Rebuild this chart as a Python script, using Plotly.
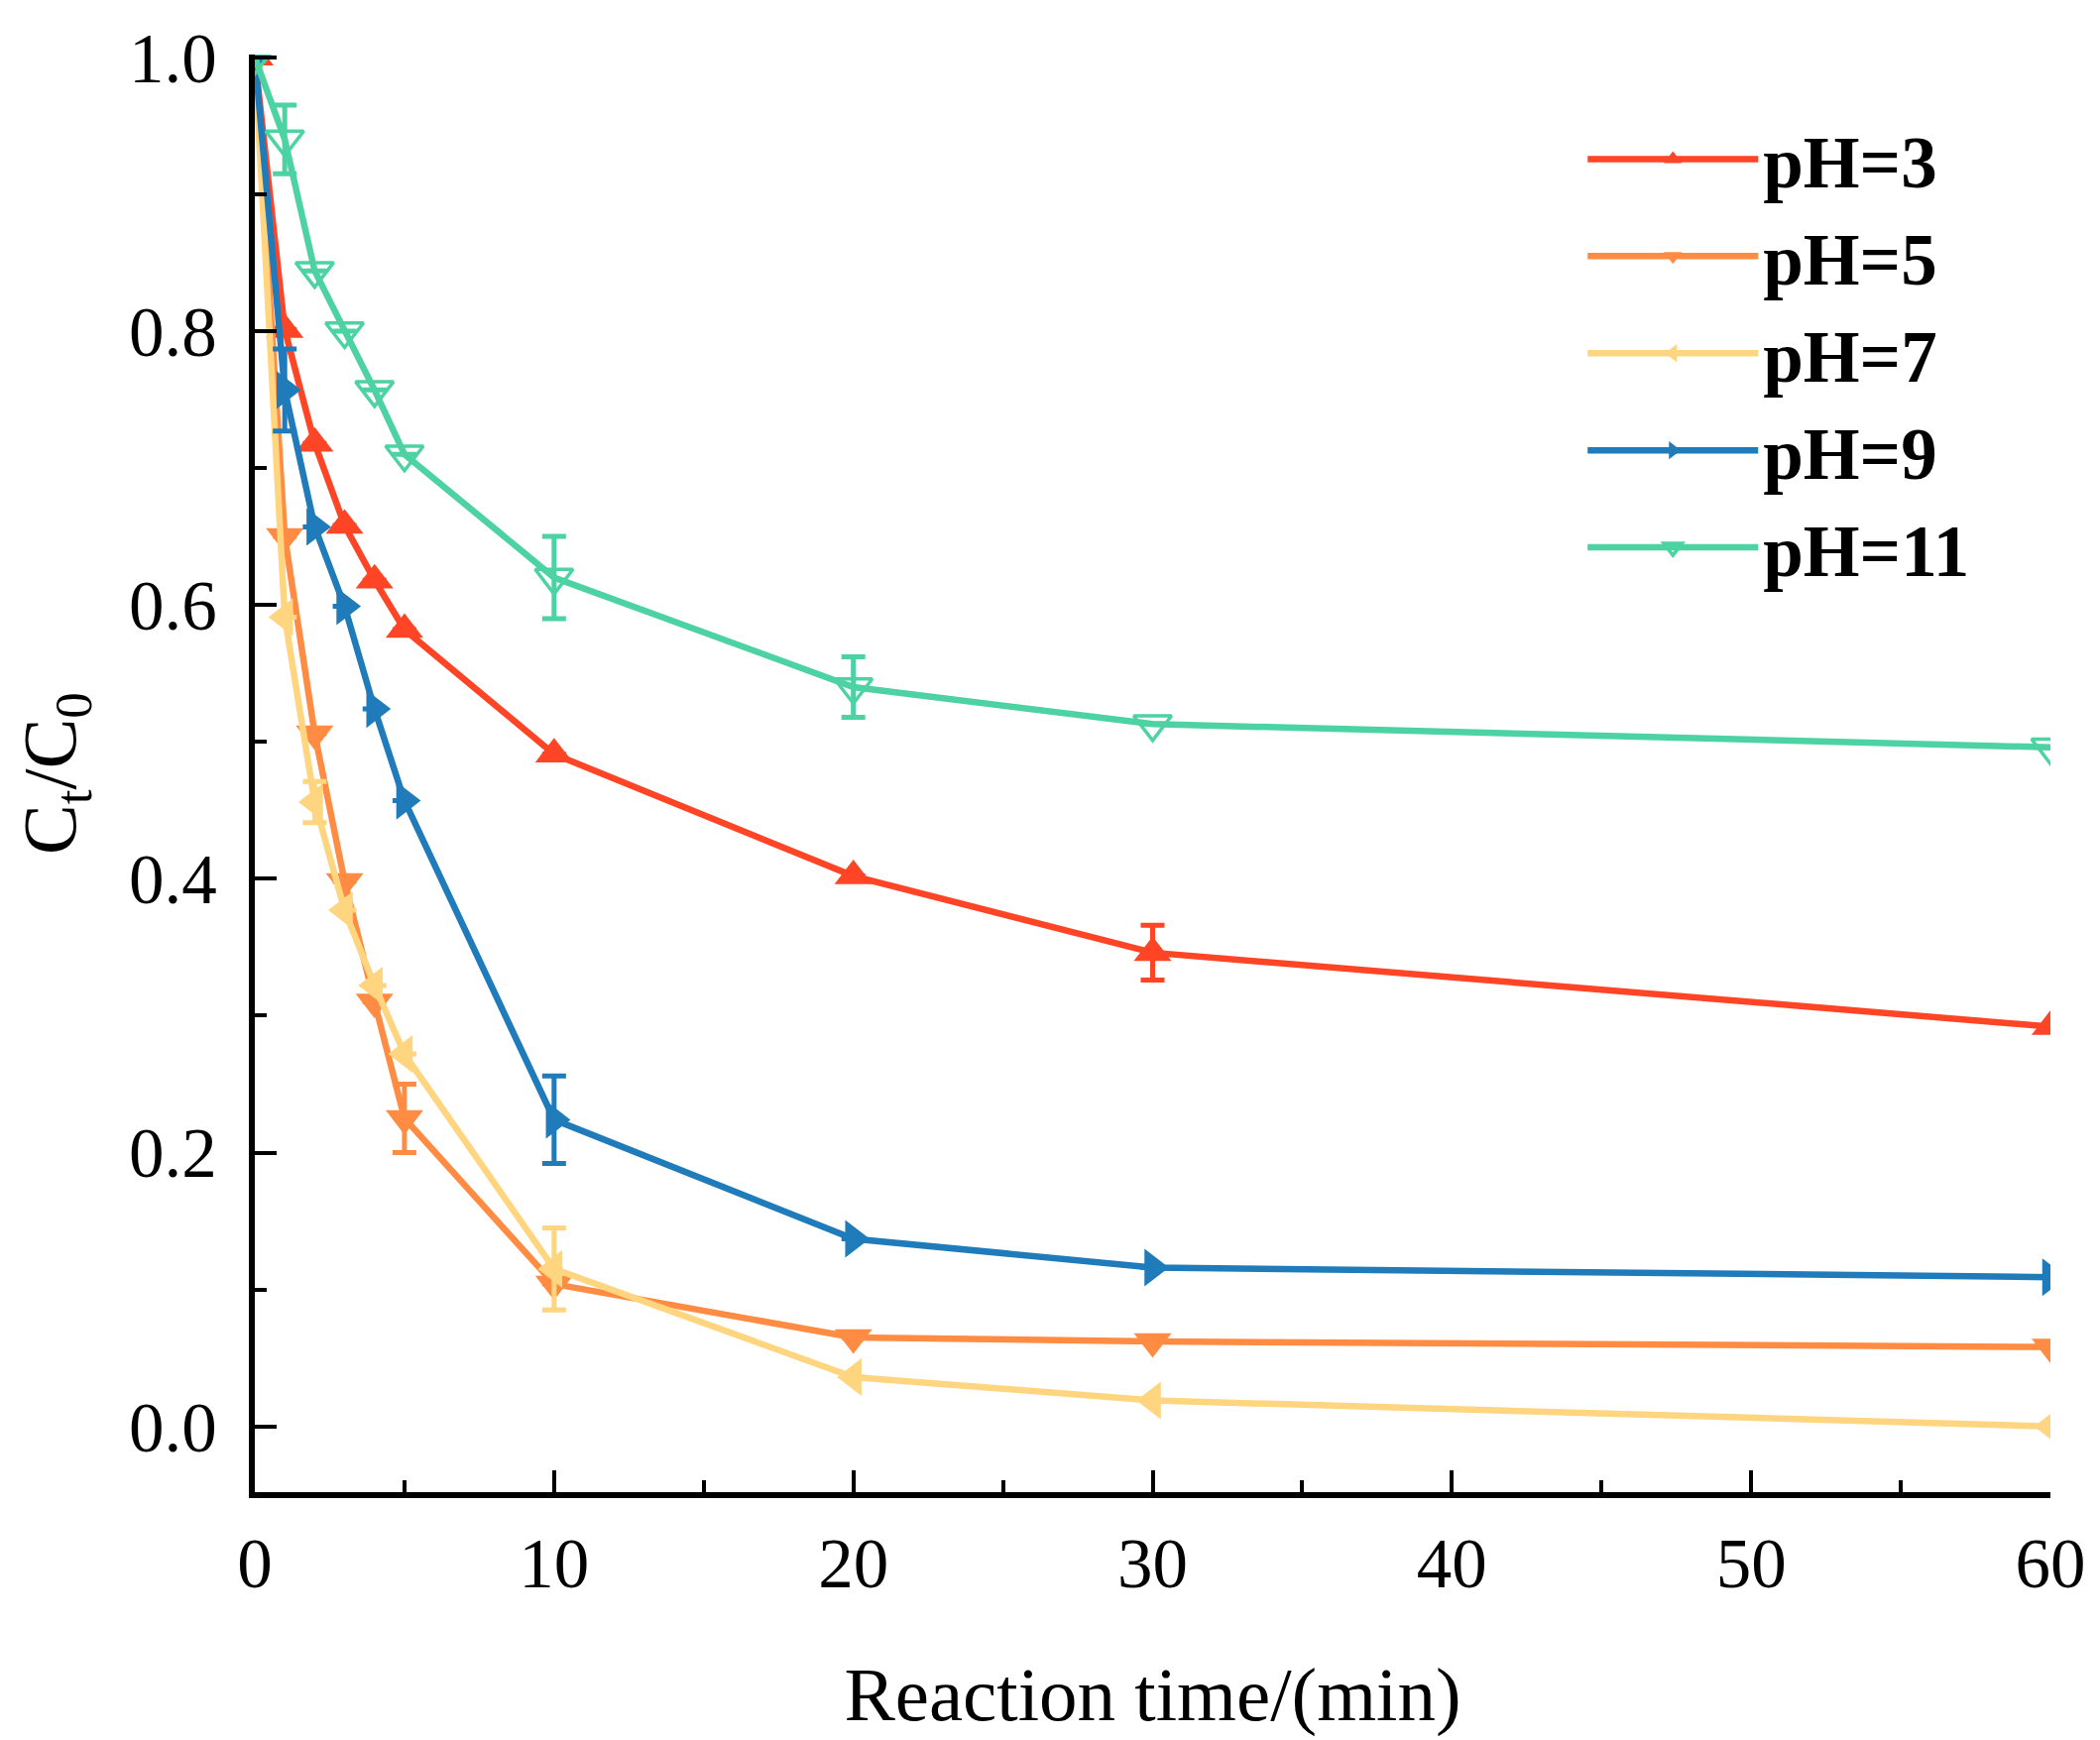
import plotly.graph_objects as go

time = [0, 1, 2, 3, 4, 5, 10, 20, 30, 60]

ph3 = [1.0, 0.801, 0.718, 0.658, 0.618, 0.582, 0.491, 0.402, 0.346, 0.292]
ph3_err = [0, 0, 0, 0, 0, 0, 0, 0, 0.02, 0]

ph5 = [1.0, 0.650, 0.506, 0.398, 0.310, 0.225, 0.104, 0.065, 0.062, 0.058]
ph5_err = [0, 0, 0, 0, 0, 0.025, 0, 0, 0, 0]

ph7 = [1.0, 0.591, 0.456, 0.377, 0.322, 0.272, 0.115, 0.036, 0.019, 0.0]
ph7_err = [0, 0, 0.015, 0, 0, 0, 0.03, 0, 0, 0]

ph9 = [1.0, 0.757, 0.657, 0.599, 0.524, 0.457, 0.224, 0.137, 0.116, 0.109]
ph9_err = [0, 0.03, 0, 0, 0, 0, 0.032, 0, 0, 0]

ph11 = [1.0, 0.940, 0.844, 0.800, 0.757, 0.710, 0.620, 0.540, 0.513, 0.496]
ph11_err = [0, 0.025, 0, 0, 0, 0, 0.03, 0.022, 0, 0]

names = ["pH=3", "pH=5", "pH=7", "pH=9", "pH=11"]
colors = ["#FF4526", "#FF8C42", "#FFD580", "#1F7BBA", "#4DD2A4"]
symbols = ["triangle-up", "triangle-down", "triangle-left", "triangle-right", "triangle-down-open"]
series = [ph3, ph5, ph7, ph9, ph11]
errors = [ph3_err, ph5_err, ph7_err, ph9_err, ph11_err]

fig = go.Figure()
for name, col, sym, ys, err in zip(names, colors, symbols, series, errors):
    fig.add_trace(go.Scatter(
        x=time, y=ys, name=name, mode="lines+markers",
        line=dict(color=col, width=6.5),
        marker=dict(symbol=sym, size=33, color=col,
                    line=dict(color=col, width=3.5 if "open" in sym else 0)),
        error_y=dict(type="data", array=err, visible=True, color=col,
                     thickness=5, width=12),
    ))

font_family = "Liberation Serif, Times New Roman, serif"

fig.update_layout(
    width=2118, height=1755,
    paper_bgcolor="white", plot_bgcolor="white",
    margin=dict(l=249, r=58, t=37, b=258),
    font=dict(family=font_family, size=70, color="black"),
    showlegend=True,
    legend=dict(
        x=0.7395, y=0.9645, xanchor="left", yanchor="top",
        font=dict(family=font_family, size=73, color="black", weight="bold"),
        bgcolor="rgba(0,0,0,0)", itemwidth=172, tracegroupgap=0,
    ),
    xaxis=dict(
        range=[0, 60], tickmode="array", tickvals=[0, 10, 20, 30, 40, 50, 60],
        ticks="inside", ticklen=22, tickwidth=4, tickcolor="black",
        minor=dict(tickvals=[5, 15, 25, 35, 45, 55], ticks="inside", ticklen=12, tickwidth=4, tickcolor="black"),
        showline=True, linecolor="black", linewidth=6, mirror=False,
        showgrid=False, zeroline=False, ticklabelstandoff=5,
        tickfont=dict(family=font_family, size=71),
        title=dict(text="Reaction time/(min)", font=dict(family=font_family, size=77), standoff=68),
    ),
    yaxis=dict(
        range=[-0.048, 1.002], tickmode="array", tickvals=[0, 0.2, 0.4, 0.6, 0.8, 1.0],
        ticktext=["0.0", "0.2", "0.4", "0.6", "0.8", "1.0"],
        ticks="inside", ticklen=22, tickwidth=4, tickcolor="black",
        minor=dict(tickvals=[0.1, 0.3, 0.5, 0.7, 0.9], ticks="inside", ticklen=12, tickwidth=4, tickcolor="black"),
        showline=True, linecolor="black", linewidth=6, mirror=False,
        showgrid=False, zeroline=False, ticklabelstandoff=18,
        tickfont=dict(family=font_family, size=71),
        title=dict(text="C<sub>t</sub>/C<sub>0</sub>", font=dict(family=font_family, size=76), standoff=36),
    ),
)

fig.write_html("out.html")
